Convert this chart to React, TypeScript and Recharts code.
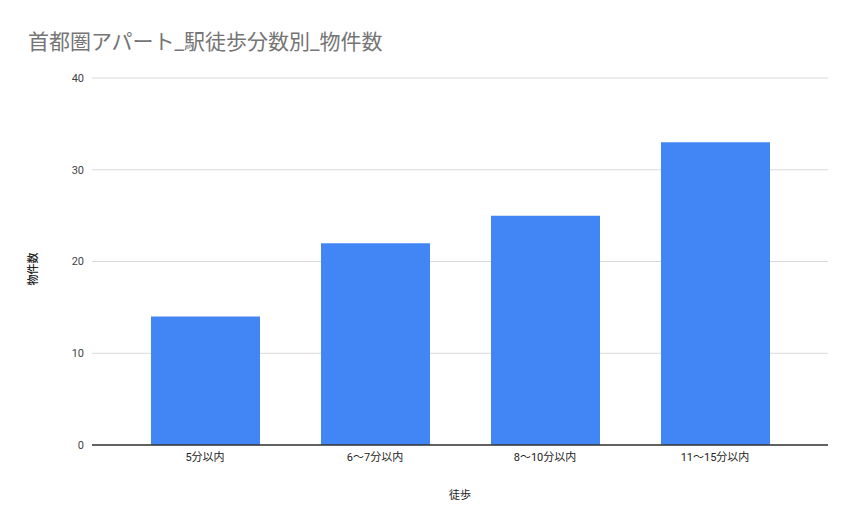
import { BarChart, Bar, XAxis, YAxis, CartesianGrid, Label } from 'recharts';

const categories = ['5分以内', '6〜7分以内', '8〜10分以内', '11〜15分以内'];
const counts = [14, 22, 25, 33];
const yTicks = [0, 10, 20, 30, 40];

const data = categories.map((name, i) => ({ name, count: counts[i] }));

const FONT = 'Roboto, "Noto Sans CJK JP", sans-serif';

// y-axis title, rotated and placed a little below the plot centre like the original
const YTitle = () => (
    <text
        x={33}
        y={269}
        transform="rotate(-90 33 269)"
        textAnchor="middle"
        dominantBaseline="central"
        fill="#222"
        fontSize={11}
        fontFamily={FONT}
        fontWeight={500}
    >
        物件数
    </text>
);

export default function App() {
    return (
        <div
            style={{
                position: 'fixed',
                left: 0,
                top: 0,
                width: 855,
                height: 529,
                background: '#fff',
                fontFamily: FONT,
            }}
        >
            <div
                style={{
                    position: 'absolute',
                    left: 28,
                    top: 25,
                    fontSize: 21,
                    color: '#757575',
                    whiteSpace: 'nowrap',
                }}
            >
                首都圏アパート_駅徒歩分数別_物件数
            </div>
            <BarChart
                width={855}
                height={529}
                data={data}
                margin={{ top: 78, right: 27, left: 32, bottom: 28 }}
            >
                <CartesianGrid vertical={false} stroke="#d9d9d9" />
                <XAxis
                    dataKey="name"
                    height={56}
                    padding={{ left: 28, right: 28 }}
                    tickLine={false}
                    axisLine={{ stroke: '#333', strokeWidth: 1.5 }}
                    tick={{ fill: '#222', fontSize: 11, fontFamily: FONT }}
                    label={{
                        value: '徒歩',
                        position: 'insideBottom',
                        offset: 2,
                        fill: '#222',
                        fontSize: 11,
                        fontFamily: FONT,
                    }}
                />
                <YAxis
                    width={60}
                    domain={[0, 40]}
                    ticks={yTicks}
                    tickLine={false}
                    axisLine={false}
                    tick={{ fill: '#444', fontSize: 11, fontFamily: FONT }}
                >
                    <Label content={<YTitle />} />
                </YAxis>
                <Bar dataKey="count" fill="#4285f4" barSize={109} isAnimationActive={false} />
            </BarChart>
        </div>
    );
}
